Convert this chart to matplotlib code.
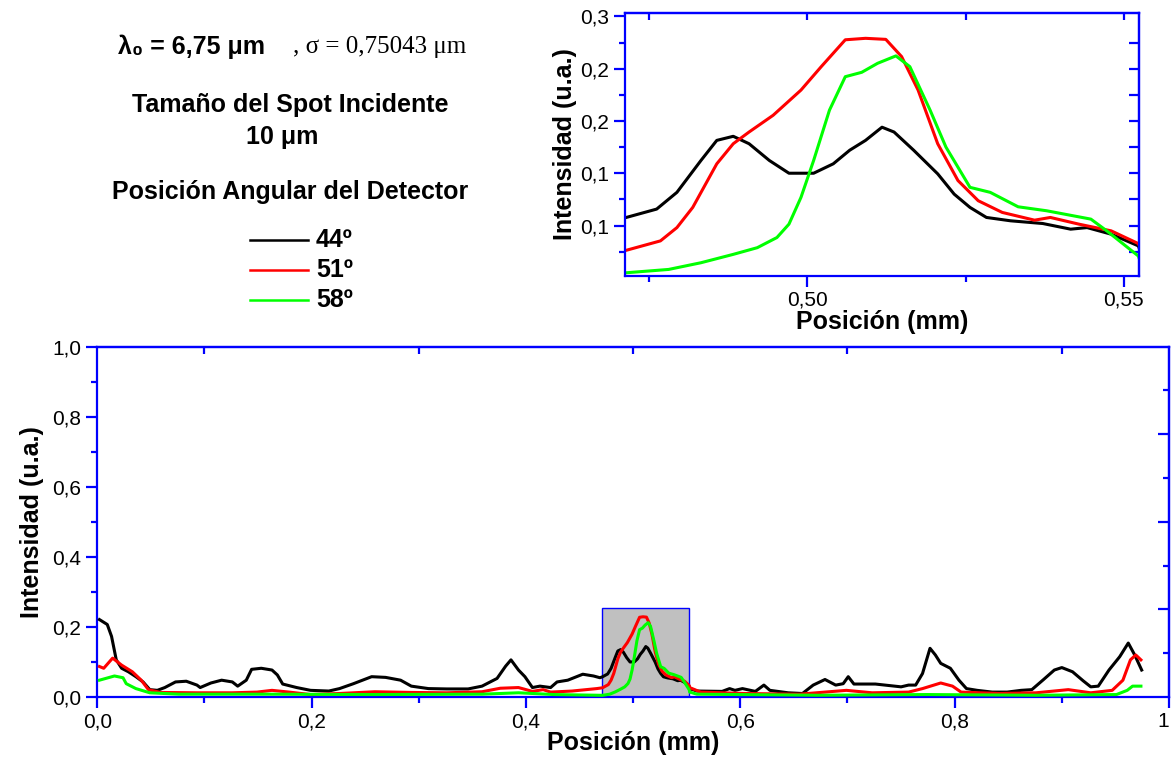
import numpy as np
import matplotlib.pyplot as plt
from matplotlib.patches import Rectangle
from matplotlib.lines import Line2D
from matplotlib.ticker import FixedLocator, MultipleLocator, NullFormatter

plt.rcParams['font.family'] = ['Liberation Sans', 'DejaVu Sans']

# --- data (posicion in mm, intensidad in u.a.) ---
pos_44 = [0.002, 0.0093, 0.0133, 0.0177, 0.0227, 0.029, 0.036, 0.0427, 0.049, 0.056,
          0.063, 0.073, 0.083, 0.093, 0.096, 0.106, 0.116, 0.126, 0.131, 0.139,
          0.144, 0.153, 0.163, 0.168, 0.173, 0.186, 0.199, 0.216, 0.226, 0.239,
          0.256, 0.269, 0.283, 0.293, 0.309, 0.326, 0.346, 0.359, 0.373, 0.381,
          0.386, 0.393, 0.399, 0.406, 0.413, 0.423, 0.429, 0.439, 0.453, 0.463,
          0.469, 0.4714, 0.4762, 0.4794, 0.4832, 0.4857, 0.4883, 0.4908, 0.4940, 0.4971,
          0.5010, 0.5041, 0.5067, 0.5092, 0.5118, 0.5137, 0.5168, 0.5206, 0.5232, 0.5257,
          0.5283, 0.5321, 0.5372, 0.5416, 0.5442, 0.5480, 0.5523, 0.5527, 0.5595, 0.583,
          0.590, 0.595, 0.602, 0.614, 0.622, 0.6276, 0.6446, 0.658, 0.668, 0.679,
          0.689, 0.696, 0.7007, 0.706, 0.726, 0.750, 0.757, 0.7636, 0.770, 0.777,
          0.782, 0.787, 0.796, 0.804, 0.811, 0.821, 0.835, 0.849, 0.862, 0.872,
          0.883, 0.893, 0.900, 0.910, 0.920, 0.927, 0.934, 0.944, 0.954, 0.962,
          0.968, 0.9745]
int_44 = [0.221, 0.207, 0.173, 0.106, 0.082, 0.072, 0.058, 0.043, 0.021, 0.019,
          0.027, 0.043, 0.045, 0.034, 0.027, 0.040, 0.048, 0.043, 0.031, 0.048,
          0.079, 0.082, 0.077, 0.063, 0.037, 0.027, 0.019, 0.017, 0.024, 0.038,
          0.058, 0.056, 0.048, 0.031, 0.024, 0.023, 0.023, 0.031, 0.053, 0.088,
          0.106, 0.077, 0.058, 0.027, 0.031, 0.027, 0.043, 0.048, 0.065, 0.060,
          0.055, 0.0577, 0.0657, 0.0817, 0.1122, 0.1314, 0.1353, 0.1282, 0.1122, 0.100,
          0.100, 0.109, 0.122, 0.1314, 0.144, 0.1394, 0.122, 0.0994, 0.080, 0.0673,
          0.0577, 0.0545, 0.0519, 0.0465, 0.048, 0.0417, 0.0305, 0.024, 0.017, 0.016,
          0.024, 0.019, 0.024, 0.016, 0.034, 0.019, 0.012, 0.010, 0.034, 0.050,
          0.034, 0.038, 0.058, 0.037, 0.037, 0.029, 0.034, 0.034, 0.067, 0.139,
          0.120, 0.096, 0.082, 0.048, 0.024, 0.019, 0.014, 0.014, 0.019, 0.021,
          0.050, 0.077, 0.084, 0.072, 0.046, 0.029, 0.031, 0.077, 0.115, 0.154,
          0.120, 0.077]

pos_51 = [0.002, 0.006, 0.0143, 0.0227, 0.0327, 0.041, 0.0477, 0.059, 0.093, 0.126,
          0.149, 0.163, 0.179, 0.199, 0.226, 0.259, 0.293, 0.326, 0.359, 0.376,
          0.393, 0.406, 0.416, 0.423, 0.443, 0.466, 0.4714, 0.4768, 0.4794, 0.4819,
          0.4857, 0.4883, 0.4908, 0.4946, 0.4990, 0.5022, 0.5060, 0.5092, 0.5124, 0.5149,
          0.5175, 0.5206, 0.5238, 0.5270, 0.5308, 0.5359, 0.5384, 0.5429, 0.5480, 0.5523,
          0.5527, 0.563, 0.604, 0.655, 0.679, 0.699, 0.723, 0.757, 0.770, 0.787,
          0.798, 0.806, 0.842, 0.876, 0.906, 0.927, 0.947, 0.957, 0.964, 0.969,
          0.9738]
int_51 = [0.087, 0.082, 0.111, 0.091, 0.072, 0.048, 0.021, 0.013, 0.012, 0.012,
          0.014, 0.019, 0.014, 0.007, 0.010, 0.015, 0.013, 0.012, 0.015, 0.025,
          0.027, 0.016, 0.021, 0.014, 0.017, 0.024, 0.0263, 0.0353, 0.048, 0.0673,
          0.109, 0.1282, 0.1394, 0.1554, 0.1795, 0.2019, 0.2276, 0.229, 0.228, 0.2115,
          0.1795, 0.1282, 0.093, 0.0737, 0.0625, 0.0551, 0.0577, 0.0513, 0.0449, 0.0327,
          0.027, 0.014, 0.010, 0.008, 0.014, 0.019, 0.012, 0.014, 0.024, 0.040,
          0.031, 0.014, 0.010, 0.012, 0.021, 0.012, 0.019, 0.048, 0.106, 0.120,
          0.106]

pos_58 = [0.002, 0.016, 0.024, 0.027, 0.036, 0.049, 0.076, 0.159, 0.259, 0.359,
          0.393, 0.426, 0.4714, 0.4781, 0.4832, 0.4883, 0.4921, 0.4952, 0.4971, 0.4990,
          0.5010, 0.5035, 0.5060, 0.5086, 0.5111, 0.5140, 0.5162, 0.5194, 0.5219, 0.5257,
          0.5289, 0.5333, 0.5378, 0.5448, 0.5473, 0.5523, 0.5527, 0.5595, 0.672, 0.774,
          0.876, 0.951, 0.961, 0.966, 0.9738]
int_58 = [0.048, 0.060, 0.055, 0.038, 0.024, 0.012, 0.008, 0.008, 0.007, 0.008,
          0.012, 0.007, 0.0048, 0.0080, 0.0144, 0.0224, 0.0288, 0.0385, 0.0513, 0.0769,
          0.1122, 0.1603, 0.1923, 0.1965, 0.2051, 0.2122, 0.2019, 0.1603, 0.125, 0.0865,
          0.0817, 0.0679, 0.0641, 0.0561, 0.0449, 0.0208, 0.014, 0.008, 0.005, 0.007,
          0.005, 0.007, 0.019, 0.031, 0.031]

series_labels = ['44º', '51º', '58º']
series_colors = ['black', '#FF0000', '#00FF00']

main_xticks = [0.0, 0.2, 0.4, 0.6, 0.8, 1.0]
main_xlabels = ['0,0', '0,2', '0,4', '0,6', '0,8', '1']
main_yticks = [0.0, 0.2, 0.4, 0.6, 0.8, 1.0]
main_ylabels = ['0,0', '0,2', '0,4', '0,6', '0,8', '1,0']
zoom_xlim = (0.4712, 0.5524)
zoom_ylim = (0.002, 0.2535)
zoom_xticks = [0.50, 0.55]
zoom_xlabels = ['0,50', '0,55']
zoom_yticks = [0.05, 0.10, 0.15, 0.20, 0.25]
zoom_ylabels = ['0,1', '0,1', '0,2', '0,2', '0,3']

BLUE = '#0000FF'
W, H = 1171, 758
LW = 2.2


def px(x, y):
    return x / W, 1 - y / H


def style_axes(a):
    for s in a.spines.values():
        s.set_color(BLUE)
        s.set_linewidth(1.6)
    a.tick_params(which='both', direction='out', color=BLUE, width=1.6, labelsize=15)
    a.tick_params(which='major', length=8)
    a.tick_params(which='minor', length=4.5)


fig = plt.figure(figsize=(W / 100, H / 100), dpi=100)

# main plot
ax = fig.add_axes([97.3 / W, 1 - 697 / H, (1169 - 97.3) / W, (697 - 346.7) / H])
ax.add_patch(Rectangle((zoom_xlim[0], 0), zoom_xlim[1] - zoom_xlim[0], zoom_ylim[1],
                       facecolor='#C0C0C0', edgecolor=BLUE, linewidth=1, zorder=1))
data = [(pos_44, int_44), (pos_51, int_51), (pos_58, int_58)]
for (xs, ys), c in zip(data, series_colors):
    ax.plot(xs, ys, color=c, linewidth=LW, zorder=3)
ax.set_xlim(0, 1.0)
ax.set_ylim(0, 1.0)
ax.xaxis.set_major_locator(FixedLocator(main_xticks))
ax.set_xticklabels(main_xlabels)
ax.get_xticklabels()[-1].set_horizontalalignment('right')
ax.xaxis.set_minor_locator(MultipleLocator(0.1))
ax.yaxis.set_major_locator(FixedLocator(main_yticks))
ax.set_yticklabels(main_ylabels)
ax.yaxis.set_minor_locator(MultipleLocator(0.1))
style_axes(ax)
ax.tick_params(axis='x', pad=3)
ax.set_xlabel('Posición (mm)', fontsize=18, fontweight='bold', labelpad=0)
ax.set_ylabel('Intensidad (u.a.)', fontsize=18, fontweight='bold', labelpad=6)

sec_r = ax.secondary_yaxis('right')
sec_r.yaxis.set_major_locator(FixedLocator([0.25, 0.5, 0.75]))
sec_r.yaxis.set_minor_locator(FixedLocator([0.125, 0.375, 0.625, 0.875]))
sec_r.yaxis.set_major_formatter(NullFormatter())
sec_r.tick_params(which='both', direction='in', color=BLUE, width=1.6)
sec_r.tick_params(which='major', length=8)
sec_r.tick_params(which='minor', length=4.5)
sec_r.spines['right'].set_color(BLUE)
sec_r.spines['right'].set_linewidth(1.6)

sec_t = ax.secondary_xaxis('top')
sec_t.xaxis.set_major_locator(FixedLocator([0.1, 0.3, 0.5, 0.7, 0.9]))
sec_t.xaxis.set_major_formatter(NullFormatter())
sec_t.tick_params(which='both', direction='in', color=BLUE, width=1.6, length=5)
sec_t.spines['top'].set_color(BLUE)
sec_t.spines['top'].set_linewidth(1.6)

# inset (zoom on the central peak)
axi = fig.add_axes([625 / W, 1 - 275.7 / H, (1139 - 625) / W, (275.7 - 12.7) / H])
for (xs, ys), c in zip(data, series_colors):
    axi.plot(xs, ys, color=c, linewidth=LW)
axi.set_xlim(*zoom_xlim)
axi.set_ylim(*zoom_ylim)
axi.xaxis.set_major_locator(FixedLocator(zoom_xticks))
axi.set_xticklabels(zoom_xlabels)
axi.xaxis.set_minor_locator(FixedLocator([0.475, 0.525]))
axi.yaxis.set_major_locator(FixedLocator(zoom_yticks))
axi.set_yticklabels(zoom_ylabels)
axi.yaxis.set_minor_locator(FixedLocator([0.025, 0.075, 0.125, 0.175, 0.225]))
style_axes(axi)
axi.tick_params(axis='x', pad=3)
axi.set_xlabel('Posición (mm)', fontsize=18, fontweight='bold', labelpad=0)
axi.set_ylabel('Intensidad (u.a.)', fontsize=18, fontweight='bold', labelpad=2)

seci_r = axi.secondary_yaxis('right')
seci_r.yaxis.set_major_locator(FixedLocator(np.arange(0.025, 0.25, 0.025)))
seci_r.yaxis.set_major_formatter(NullFormatter())
seci_r.tick_params(direction='in', color=BLUE, width=1.6, length=7)
seci_r.spines['right'].set_color(BLUE)
seci_r.spines['right'].set_linewidth(1.6)

seci_t = axi.secondary_xaxis('top')
seci_t.xaxis.set_major_locator(FixedLocator([0.475, 0.50, 0.525, 0.55]))
seci_t.xaxis.set_major_formatter(NullFormatter())
seci_t.tick_params(direction='in', color=BLUE, width=1.6, length=5)
seci_t.spines['top'].set_color(BLUE)
seci_t.spines['top'].set_linewidth(1.6)

# annotation block
TS = 18
fig.text(*px(118, 47), 'λ₀ = 6,75 μm', fontsize=TS, fontweight='bold',
         ha='left', va='center')
fig.text(*px(293, 47), ', σ = 0,75043 μm', fontsize=TS,
         family=['Liberation Serif', 'DejaVu Serif'], ha='left', va='center')
fig.text(*px(290, 105), 'Tamaño del Spot Incidente', fontsize=TS, fontweight='bold',
         ha='center', va='center')
fig.text(*px(282, 137), '10 μm', fontsize=TS, fontweight='bold',
         ha='center', va='center')
fig.text(*px(290, 192), 'Posición Angular del Detector', fontsize=TS, fontweight='bold',
         ha='center', va='center')
for i, (lab, c) in enumerate(zip(series_labels, series_colors)):
    y = 240 + 30 * i
    x0, y0 = px(250, y)
    x1, _ = px(308, y)
    fig.add_artist(Line2D([x0, x1], [y0, y0], color=c, linewidth=1.8))
    fig.text(*px(316, y), lab, fontsize=TS, fontweight='bold', ha='left', va='center')

fig.savefig('out.png', dpi=100)
